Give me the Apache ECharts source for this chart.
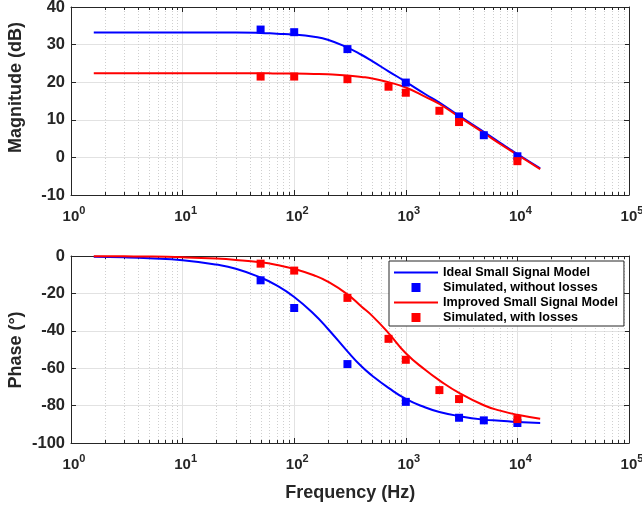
<!DOCTYPE html>
<html><head><meta charset="utf-8">
<script src="https://cdn.jsdelivr.net/npm/echarts@6/dist/echarts.min.js"></script>
<style>html,body{margin:0;padding:0;background:#fff}#c{width:642px;height:508px}</style>
</head><body><div id="c"></div>
<script>
// ---- data ----
const modelFreq      = [1.6, 3, 5, 10, 20, 30, 50, 70, 100, 150, 200, 300, 400, 500, 700, 1000, 1500, 2000, 3000, 5000, 7000, 10000, 16000];
const idealMag       = [33.2, 33.2, 33.2, 33.2, 33.2, 33.2, 33.1, 32.9, 32.7, 32.1, 31.3, 29.2, 27.3, 25.6, 22.9, 20.1, 16.8, 14.6, 11.1, 6.8, 3.9, 0.9, -2.9];
const improvedMag    = [22.4, 22.4, 22.4, 22.4, 22.4, 22.4, 22.4, 22.3, 22.3, 22.2, 22.1, 21.8, 21.4, 21.0, 20.0, 18.6, 16.1, 14.2, 10.8, 6.5, 3.6, 0.7, -3.1];
const idealPhase     = [-0.4, -0.7, -1.2, -2.3, -4.6, -6.8, -11.5, -15.8, -21.9, -31.0, -38.9, -51.0, -59.0, -64.0, -70.5, -76.4, -81.0, -83.4, -85.6, -87.5, -88.1, -88.8, -89.3];
const improvedPhase  = [-0.1, -0.2, -0.3, -0.7, -1.4, -2.1, -3.4, -4.8, -6.9, -10.3, -13.7, -20.5, -27.0, -32.0, -41.2, -52.0, -61.0, -66.5, -73.2, -79.8, -82.7, -84.9, -87.0];

const simFreqNoLoss  = [50, 100, 300, 1000, 3000, 5000, 10000];
const simMagNoLoss   = [34.0, 33.3, 28.8, 19.9, 10.9, 5.9, 0.3];
const simPhaseNoLoss = [-13.0, -27.8, -57.8, -78.0, -86.5, -87.9, -89.3];

const simFreqLoss    = [50, 100, 300, 700, 1000, 2000, 3000, 10000];
const simMagLoss     = [21.5, 21.5, 20.8, 18.8, 17.2, 12.4, 9.4, -1.0];
const simPhaseLoss   = [-4.1, -7.8, -22.4, -44.3, -55.5, -71.7, -76.5, -87.2];

const seriesNames = ['Ideal Small Signal Model', 'Simulated, without losses', 'Improved Small Signal Model', 'Simulated, with losses'];
const xRange = [1, 100000];
const magRange = [-10, 40];
const magStep = 10;
const phaseRange = [-100, 0];
const phaseStep = 20;
const decadeStarts = [1, 10, 100, 1000, 10000];
const minorMultipliers = [2, 3, 4, 5, 6, 7, 8, 9];
const xAxisTitle = 'Frequency (Hz)';
const magTitle = 'Magnitude (dB)';
const phaseTitle = 'Phase (°)';

// ---- chart ----
const FONT = '"Liberation Sans", Arial, Helvetica, sans-serif';
const AX = '#262626';
const BLUE = '#0000ff', RED = '#ff0000';
const minorFreqs = [];
decadeStarts.forEach(d => minorMultipliers.forEach(m => minorFreqs.push(d * m)));
const pair = (xs, ys) => xs.map((x, i) => [x, ys[i]]);

function xAxisDef(gridIndex, position, labels) {
  return {
    type: 'log', logBase: 10, gridIndex, position, min: xRange[0], max: xRange[1], splitNumber: 5,
    axisLine: { show: true, onZero: false, lineStyle: { color: AX, width: 1 } },
    axisTick: { show: true, inside: true, length: 5, lineStyle: { color: AX } },
    minorTick: { show: false },
    splitLine: { show: position === 'bottom', lineStyle: { color: '#e2e2e2', width: 1 } },
    axisLabel: labels ? {
      show: true, margin: 10, hideOverlap: false, showMinLabel: true, showMaxLabel: true,
      formatter: v => '{b|10}{e|' + Math.round(Math.log10(v)) + '}',
      rich: {
        b: { fontFamily: FONT, fontWeight: 'bold', fontSize: 15, color: AX, padding: [4, 0, 0, 6] },
        e: { fontFamily: FONT, fontWeight: 'bold', fontSize: 11, color: AX, verticalAlign: 'top' }
      }
    } : { show: false }
  };
}
function yAxisDef(gridIndex, position, range, step, labels) {
  return {
    type: 'value', gridIndex, position, min: range[0], max: range[1], interval: step,
    axisLine: { show: true, onZero: false, lineStyle: { color: AX, width: 1 } },
    axisTick: { show: true, inside: true, length: 5, lineStyle: { color: AX } },
    splitLine: { show: position === 'left', lineStyle: { color: '#e2e2e2', width: 1 } },
    axisLabel: labels ? {
      show: true, margin: 6, fontFamily: FONT, fontWeight: 'bold', fontSize: 16.5, color: AX,
      showMinLabel: true, showMaxLabel: true, hideOverlap: false
    } : { show: false }
  };
}
function minorSeries(xi, yi, yr) {
  return {
    type: 'custom', xAxisIndex: xi, yAxisIndex: yi, silent: true, z: 1, clip: false,
    data: minorFreqs.map(f => [f, yr[0]]),
    renderItem: (params, api) => {
      const f = api.value(0);
      const b = api.coord([f, yr[0]]), t = api.coord([f, yr[1]]);
      const x = Math.round(b[0]) + 0.5;
      return { type: 'group', children: [
        { type: 'line', shape: { x1: x, y1: b[1], x2: x, y2: t[1] }, style: { stroke: '#cfcfcf', lineWidth: 1, lineDash: [1, 2] } },
        { type: 'line', shape: { x1: x, y1: b[1], x2: x, y2: b[1] - 3 }, style: { stroke: AX, lineWidth: 1 } },
        { type: 'line', shape: { x1: x, y1: t[1], x2: x, y2: t[1] + 3 }, style: { stroke: AX, lineWidth: 1 } }
      ] };
    }
  };
}
function lineS(name, xi, yi, data, color) {
  return { type: 'line', name, xAxisIndex: xi, yAxisIndex: yi, data, smooth: 0.5, symbol: 'none', showSymbol: false,
    lineStyle: { color, width: 2 }, itemStyle: { color }, z: 3 };
}
function scatS(name, xi, yi, data, color) {
  return { type: 'scatter', name, xAxisIndex: xi, yAxisIndex: yi, data, symbol: 'rect', symbolSize: 8,
    itemStyle: { color, opacity: 1 }, z: 3 };
}
const SQ = 'path://M0,0L10,0L10,10L0,10Z';
const LN = 'path://M0,0L44,0L44,2L0,2Z';

const chart = echarts.init(document.getElementById('c'), null, { renderer: 'canvas' });
chart.setOption({
  animation: false,
  backgroundColor: '#ffffff',
  grid: [
    { left: 71, right: 13, top: 7, height: 188, outerBoundsMode: 'none', containLabel: false },
    { left: 71, right: 13, top: 256, height: 187, outerBoundsMode: 'none', containLabel: false }
  ],
  xAxis: [xAxisDef(0, 'bottom', true), xAxisDef(0, 'top', false), xAxisDef(1, 'bottom', true), xAxisDef(1, 'top', false)],
  yAxis: [yAxisDef(0, 'left', magRange, magStep, true), yAxisDef(0, 'right', magRange, magStep, false),
          yAxisDef(1, 'left', phaseRange, phaseStep, true), yAxisDef(1, 'right', phaseRange, phaseStep, false)],
  legend: {
    orient: 'vertical', left: 389, top: 261, padding: [4, 6, 1, 5], itemGap: 0,
    itemWidth: 44, itemHeight: 9, selectedMode: false,
    backgroundColor: '#ffffff', borderColor: AX, borderWidth: 1, borderRadius: 0,
    textStyle: { fontFamily: FONT, fontWeight: 'bold', fontSize: 12.6, color: '#000', lineHeight: 15 },
    data: [
      { name: seriesNames[0], icon: LN, itemStyle: { color: BLUE } },
      { name: seriesNames[1], icon: SQ },
      { name: seriesNames[2], icon: LN, itemStyle: { color: RED } },
      { name: seriesNames[3], icon: SQ }
    ]
  },
  graphic: [
    { type: 'text', x: 16, y: 87.5, rotation: Math.PI / 2, silent: true,
      style: { text: magTitle, font: 'bold 18px ' + FONT, fill: AX, align: 'center', verticalAlign: 'middle', textAlign: 'center', textVerticalAlign: 'middle' } },
    { type: 'text', x: 16.5, y: 350, rotation: Math.PI / 2, silent: true,
      style: { text: phaseTitle, font: 'bold 18px ' + FONT, fill: AX, align: 'center', verticalAlign: 'middle', textAlign: 'center', textVerticalAlign: 'middle' } },
    { type: 'text', x: 350.3, y: 493, silent: true,
      style: { text: xAxisTitle, font: 'bold 18px ' + FONT, fill: AX, align: 'center', verticalAlign: 'middle', textAlign: 'center', textVerticalAlign: 'middle' } }
  ],
  series: [
    minorSeries(0, 0, magRange),
    minorSeries(2, 2, phaseRange),
    lineS(seriesNames[0], 0, 0, pair(modelFreq, idealMag), BLUE),
    lineS(seriesNames[0], 2, 2, pair(modelFreq, idealPhase), BLUE),
    scatS(seriesNames[1], 0, 0, pair(simFreqNoLoss, simMagNoLoss), BLUE),
    scatS(seriesNames[1], 2, 2, pair(simFreqNoLoss, simPhaseNoLoss), BLUE),
    lineS(seriesNames[2], 0, 0, pair(modelFreq, improvedMag), RED),
    lineS(seriesNames[2], 2, 2, pair(modelFreq, improvedPhase), RED),
    scatS(seriesNames[3], 0, 0, pair(simFreqLoss, simMagLoss), RED),
    scatS(seriesNames[3], 2, 2, pair(simFreqLoss, simPhaseLoss), RED)
  ]
});
</script></body></html>
